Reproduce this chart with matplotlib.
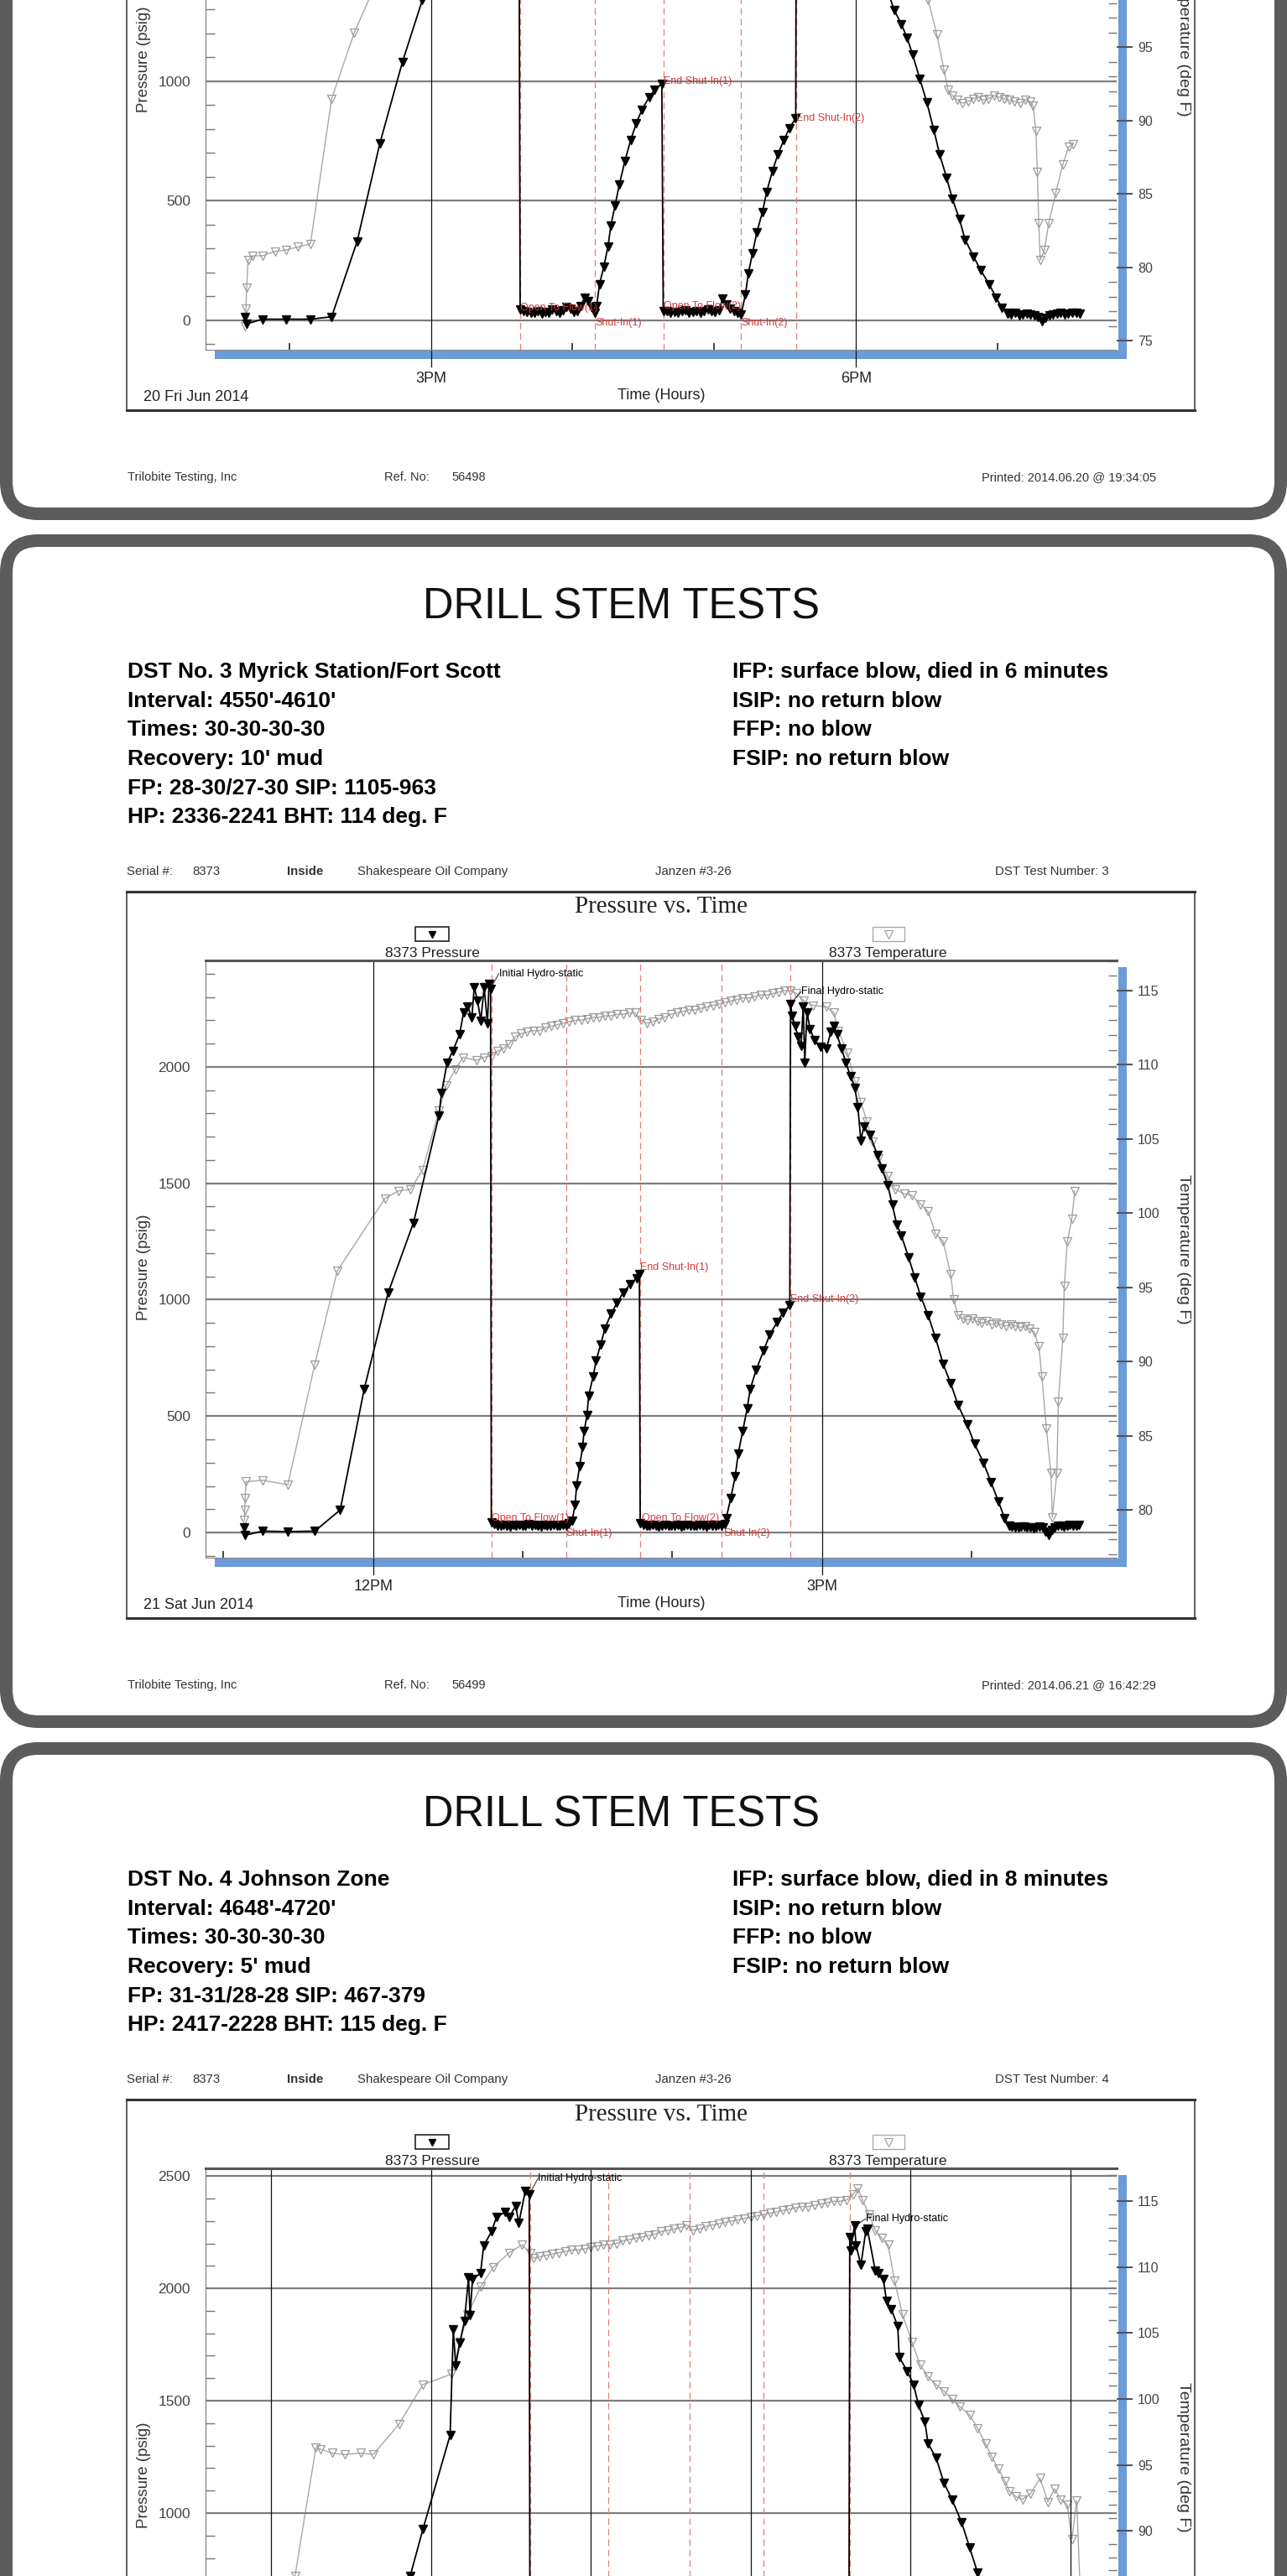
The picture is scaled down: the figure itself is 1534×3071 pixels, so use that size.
import numpy as np
import matplotlib.pyplot as plt
from matplotlib.patches import FancyBboxPatch, Rectangle
from matplotlib.ticker import MultipleLocator

W, H = 1534, 3071
PX = 0.72  # points per pixel at dpi 100

SANS = ['Liberation Sans', 'DejaVu Sans']
SERIF = ['Liberation Serif', 'DejaVu Serif']
RED = '#d43a3a'

# ---------------- DST No. 2 (top panel, only the lower part is on the page) ----------------
dst2_events = [15.63, 16.16, 16.64, 17.19, 17.58]
dst2_run_t = [13.69, 13.70, 13.81, 13.98, 14.15, 14.30, 14.48, 14.64, 14.80, 14.94, 15.20, 15.40, 15.55, 15.62]
dst2_run_p = [15, -15, 5, 5, 5, 15, 331, 740, 1082, 1340, 1800, 2150, 2280, 2300]
dst2_flow1 = [45, 38, 35, 30, 32, 40, 28, 35, 30, 45, 38, 30, 42, 55, 48, 35, 40, 60, 95, 80, 55, 30]
dst2_si1_t = [16.17, 16.19, 16.22, 16.25, 16.27, 16.30, 16.33, 16.37, 16.41, 16.45, 16.49, 16.54, 16.58, 16.63]
dst2_si1_p = [60, 151, 223, 309, 396, 481, 568, 668, 754, 825, 882, 933, 965, 990]
dst2_flow2 = [40, 38, 32, 35, 30, 38, 42, 30, 35, 40, 33, 38, 45, 40, 35, 42, 90, 65, 50, 40, 30, 25]
dst2_si2_t = [17.22, 17.24, 17.27, 17.30, 17.34, 17.37, 17.41, 17.45, 17.49, 17.53, 17.575]
dst2_si2_p = [109, 195, 281, 367, 453, 538, 624, 696, 753, 803, 846]
dst2_out_t = [17.58, 17.62, 17.75, 17.90, 18.05, 18.20, 18.27, 18.32, 18.36, 18.40, 18.45, 18.50,
              18.55, 18.59, 18.64, 18.68, 18.73, 18.77, 18.83, 18.88, 18.94, 18.99, 19.03, 19.07]
dst2_out_p = [2200, 2150, 2050, 1850, 1650, 1420, 1298, 1240, 1183, 1112, 1011, 912,
              796, 695, 596, 509, 424, 338, 267, 210, 151, 95, 52, 30]
dst2_tail = [28, 25, 30, 22, 25, 28, 24, 20, 15, -5, 10, 22, 25, 28, 30, 26, 28, 30, 32, 28]
dst2_temp_t = [13.69, 13.695, 13.70, 13.71, 13.74, 13.81, 13.90, 13.98, 14.06, 14.15, 14.30, 14.46,
               14.62, 14.90, 15.60, 16.60, 17.60, 17.90, 18.20, 18.45, 18.51, 18.57, 18.62, 18.65]
dst2_temp = [76.0, 77.2, 78.6, 80.5, 80.8, 80.8, 81.1, 81.2, 81.4, 81.6, 91.5, 96.0,
             99.5, 104.0, 110.0, 112.5, 114.0, 114.5, 108.0, 100.5, 98.2, 95.9, 93.5, 92.1]
dst2_temp_flat = [91.7, 91.4, 91.2, 91.3, 91.5, 91.6, 91.4, 91.5, 91.7, 91.6, 91.5, 91.4, 91.3, 91.2, 91.4, 91.3]
dst2_temp_end_t = [19.25, 19.27, 19.28, 19.29, 19.30, 19.33, 19.36, 19.41, 19.46, 19.50, 19.53]
dst2_temp_end = [91.0, 89.3, 86.5, 83.0, 80.5, 81.2, 83.0, 85.1, 87.0, 88.2, 88.4]

# ---------------- DST No. 3 (middle panel) ----------------
dst3_info_left = ["DST No. 3 Myrick Station/Fort Scott", "Interval: 4550'-4610'", "Times: 30-30-30-30",
                  "Recovery: 10' mud", "FP: 28-30/27-30 SIP: 1105-963", "HP: 2336-2241 BHT: 114 deg. F"]
dst3_info_right = ["IFP: surface blow, died in 6 minutes", "ISIP: no return blow", "FFP: no blow",
                   "FSIP: no return blow"]
dst3_events = [12.79, 13.29, 13.785, 14.33, 14.79]
dst3_run_t = [11.14, 11.145, 11.26, 11.43, 11.61, 11.78, 11.94, 12.10, 12.27, 12.44, 12.457, 12.495,
              12.533, 12.578, 12.605, 12.632, 12.66, 12.676, 12.698, 12.72, 12.742, 12.764, 12.775, 12.785]
dst3_run_p = [20, -12, 6, 4, 6, 97, 615, 1029, 1331, 1791, 1887, 2019,
              2068, 2140, 2235, 2259, 2212, 2343, 2283, 2199, 2343, 2187, 2356, 2336]
dst3_flow1 = [42, 35, 30, 28, 33, 30, 27, 34, 29, 31, 28, 30, 35, 29, 31, 30, 27, 32, 30, 29, 33, 30, 28, 31, 30]
dst3_si1_t = [13.31, 13.33, 13.35, 13.36, 13.38, 13.40, 13.41, 13.43, 13.44, 13.47, 13.49, 13.52,
              13.55, 13.59, 13.63, 13.67, 13.72, 13.76, 13.78]
dst3_si1_p = [40, 50, 119, 201, 284, 367, 435, 504, 586, 669, 737, 806, 877, 939, 986, 1029, 1068, 1092, 1110]
dst3_flow2 = [40, 33, 30, 28, 31, 29, 27, 30, 32, 28, 30, 29, 31, 27, 30, 33, 29, 30, 28, 31, 30, 27, 32, 29,
              30, 31, 29]
dst3_si2_t = [14.35, 14.36, 14.39, 14.42, 14.44, 14.47, 14.50, 14.52, 14.56, 14.61, 14.65, 14.70, 14.74, 14.785]
dst3_si2_p = [35, 63, 146, 241, 338, 435, 532, 615, 698, 781, 849, 903, 945, 975]
dst3_out_t = [14.79, 14.80, 14.82, 14.84, 14.86, 14.875, 14.885, 14.90, 14.92, 14.95, 14.99, 15.03,
              15.06, 15.08, 15.10, 15.13, 15.16, 15.19, 15.22, 15.24, 15.26, 15.28, 15.32, 15.37,
              15.40, 15.44, 15.47, 15.50, 15.53, 15.58, 15.62, 15.66, 15.71, 15.76, 15.81, 15.86,
              15.91, 15.97, 16.02, 16.08, 16.13, 16.18, 16.22, 16.25]
dst3_out_p = [2271, 2220, 2176, 2130, 2091, 2259, 2019, 2235, 2163, 2115, 2086, 2079,
              2151, 2176, 2140, 2079, 2019, 1960, 1911, 1827, 1683, 1745, 1709, 1622,
              1565, 1493, 1407, 1324, 1277, 1180, 1097, 1014, 932, 835, 723, 642,
              547, 464, 381, 299, 216, 133, 63, 29]
dst3_tail = [29, 25, 22, 20, 24, 26, 22, 20, 18, 22, 25, 20, 5, -10, 10, 22, 28, 30, 26, 30, 32, 28, 30, 33]
dst3_temp_t = [11.14, 11.142, 11.145, 11.15, 11.26, 11.43, 11.61, 11.76, 12.08, 12.17, 12.25, 12.33,
               12.44, 12.49, 12.55, 12.60, 12.69, 12.74]
dst3_temp = [79.3, 80.0, 80.8, 81.9, 82.0, 81.7, 89.8, 96.1, 101.0, 101.5, 101.6, 102.9,
             106.9, 108.6, 109.7, 110.5, 110.3, 110.5]
dst3_temp_plateau = [110.6, 110.9, 111.1, 111.4, 111.9, 112.1, 112.2, 112.3, 112.3, 112.5, 112.6, 112.7,
                     112.8, 112.9, 113.0, 113.0, 113.1, 113.2, 113.2, 113.3, 113.3, 113.4, 113.4, 113.5,
                     113.5, 113.0, 112.8, 112.9, 113.1, 113.2, 113.4, 113.5, 113.6, 113.7, 113.7, 113.8,
                     113.9, 114.0, 114.1, 114.2, 114.3, 114.4, 114.5, 114.5, 114.6, 114.7, 114.7, 114.8,
                     114.9, 115.0, 115.0]
dst3_temp_fall_t = [14.83, 14.88, 14.94, 15.03, 15.08, 15.11, 15.17, 15.22, 15.26, 15.30, 15.34, 15.38,
                    15.44, 15.49, 15.55, 15.60, 15.66, 15.71, 15.76, 15.81, 15.86, 15.88]
dst3_temp_fall = [114.8, 114.3, 114.0, 113.9, 113.5, 112.3, 110.8, 108.9, 107.5, 106.2, 104.8, 103.7,
                  102.5, 101.6, 101.3, 101.2, 100.6, 100.1, 98.6, 98.1, 95.9, 94.2]
dst3_temp_flat = [93.1, 92.9, 92.8, 92.9, 92.7, 92.6, 92.7, 92.5, 92.6, 92.5, 92.4, 92.5, 92.4, 92.3, 92.4,
                  92.2, 92.0]
dst3_temp_end_t = [16.45, 16.47, 16.50, 16.53, 16.54, 16.57, 16.58, 16.61, 16.62, 16.64, 16.67, 16.69]
dst3_temp_end = [91.0, 89.0, 85.5, 82.5, 79.5, 82.5, 87.3, 91.6, 95.1, 98.1, 99.6, 101.5]

# ---------------- DST No. 4 (bottom panel, only the upper part is on the page) ----------------
dst4_info_left = ["DST No. 4 Johnson Zone", "Interval: 4648'-4720'", "Times: 30-30-30-30",
                  "Recovery: 5' mud", "FP: 31-31/28-28 SIP: 467-379", "HP: 2417-2228 BHT: 115 deg. F"]
dst4_info_right = ["IFP: surface blow, died in 8 minutes", "ISIP: no return blow", "FFP: no blow",
                   "FSIP: no return blow"]
dst4_events = [10.62, 11.11, 11.62, 12.08, 12.62]
dst4_run_t = [9.80, 9.87, 9.95, 10.12, 10.14, 10.155, 10.18, 10.21, 10.235, 10.245, 10.26, 10.31,
              10.33, 10.38, 10.41, 10.465, 10.49, 10.53, 10.55, 10.59, 10.615]
dst4_run_p = [520, 720, 929, 1347, 1817, 1657, 1757, 1854, 2049, 1881, 2041, 2067,
              2190, 2254, 2317, 2340, 2317, 2366, 2291, 2433, 2417]
dst4_flow1 = [31, 30, 28, 33, 30, 29, 31, 30, 32, 29, 31, 30, 31]
dst4_si1_t = [11.13, 11.18, 11.25, 11.35, 11.45, 11.55, 11.615]
dst4_si1_p = [60, 200, 320, 400, 440, 460, 467]
dst4_flow2 = [28, 27, 29, 28, 30, 28, 27, 28, 29, 28, 28]
dst4_si2_t = [12.10, 12.15, 12.22, 12.32, 12.42, 12.52, 12.615]
dst4_si2_p = [50, 160, 260, 320, 355, 372, 379]
dst4_out_t = [12.62, 12.625, 12.65, 12.66, 12.69, 12.72, 12.73, 12.78, 12.80, 12.83, 12.85, 12.88,
              12.92, 12.93, 12.98, 13.02, 13.05, 13.09, 13.11, 13.16, 13.21, 13.26, 13.32, 13.37,
              13.42, 13.47]
dst4_out_p = [2228, 2168, 2280, 2190, 2104, 2254, 2265, 2078, 2067, 2041, 1944, 1907,
              1832, 1694, 1631, 1571, 1481, 1407, 1310, 1246, 1134, 1060, 959, 847,
              735, 620]
dst4_temp_t = [9.15, 9.28, 9.31, 9.38, 9.46, 9.56, 9.64, 9.80, 9.95, 10.13, 10.18, 10.23,
               10.31, 10.39, 10.49, 10.57, 10.62]
dst4_temp = [86.6, 96.3, 96.2, 95.9, 95.8, 95.9, 95.8, 98.1, 101.1, 101.9, 104.3, 106.4,
             108.5, 110.0, 111.1, 111.7, 111.1]
dst4_temp_plateau = [110.7, 110.8, 110.9, 111.0, 111.1, 111.2, 111.3, 111.3, 111.4, 111.5, 111.6, 111.7,
                     111.7, 111.8, 112.0, 112.1, 112.2, 112.3, 112.4, 112.5, 112.7, 112.8, 112.9, 113.0,
                     113.2, 112.8, 112.9, 113.1, 113.2, 113.3, 113.4, 113.5, 113.6, 113.7, 113.8, 113.9,
                     114.0, 114.1, 114.2, 114.3, 114.4, 114.5, 114.6, 114.6, 114.7, 114.8, 114.9, 115.0,
                     115.0, 115.1, 115.5]
dst4_temp_fall_t = [12.67, 12.70, 12.74, 12.78, 12.82, 12.86, 12.90, 12.95, 13.01, 13.06, 13.11, 13.16,
                    13.21, 13.26, 13.31, 13.37, 13.42, 13.47, 13.51, 13.55, 13.59, 13.62, 13.66, 13.70,
                    13.75, 13.81, 13.86, 13.90, 13.94, 13.98, 14.01, 14.04, 14.06]
dst4_temp_fall = [116.0, 115.1, 114.0, 112.8, 112.2, 111.7, 109.0, 106.4, 104.3, 102.6, 101.7, 101.1,
                  100.6, 100.0, 99.4, 98.8, 97.8, 96.6, 95.6, 94.7, 93.8, 93.0, 92.6, 92.4,
                  92.8, 94.0, 92.2, 93.2, 92.4, 92.0, 89.4, 92.3, 86.0]


def even(t0, t1, vals):
    # logger samples at a steady rate between two events
    return np.linspace(t0, t1, len(vals)), vals


def join(*parts):
    t = np.concatenate([np.asarray(a, float) for a, b in parts])
    v = np.concatenate([np.asarray(b, float) for a, b in parts])
    return t, v


e2, e3, e4 = dst2_events, dst3_events, dst4_events

# gridlines cover the whole scale, tick labels only the part that lands on the page
charts = [
    dict(top=-803, serial_no='2', info_left=[], info_right=[],
         ref='56498', printed='Printed: 2014.06.20 @ 19:34:05', date='20 Fri Jun 2014',
         xlim=(13.41, 19.84), plim=(-123, 2375), tlim=(74.4, 115.06),
         pgrid=[0, 500, 1000, 1500, 2000], pticks=[0, 500, 1000], tticks=[75, 80, 85, 90, 95],
         hours=[15, 18], hour_labels=['3PM', '6PM'], minor_hours=[14, 16, 17, 19],
         events=e2,
         pressure=join((dst2_run_t, dst2_run_p), even(e2[0], e2[1], dst2_flow1), (dst2_si1_t, dst2_si1_p),
                       even(e2[2], e2[3], dst2_flow2), (dst2_si2_t, dst2_si2_p), (dst2_out_t, dst2_out_p),
                       even(19.07, 19.58, dst2_tail)),
         temp=join((dst2_temp_t, dst2_temp), even(18.68, 19.23, dst2_temp_flat), (dst2_temp_end_t, dst2_temp_end)),
         labels=[(e2[0], 53, 'Open To Flow(1)', RED), (e2[1], -12, 'Shut-In(1)', RED),
                 (e2[2], 1000, 'End Shut-In(1)', RED), (e2[2], 60, 'Open To Flow(2)', RED),
                 (e2[3], -12, 'Shut-In(2)', RED), (e2[4], 846, 'End Shut-In(2)', RED)],
         leaders=[]),
    dict(top=637, serial_no='3', info_left=dst3_info_left, info_right=dst3_info_right,
         ref='56499', printed='Printed: 2014.06.21 @ 16:42:29', date='21 Sat Jun 2014',
         xlim=(10.88, 16.97), plim=(-108, 2457), tlim=(76.78, 117.03),
         pgrid=[0, 500, 1000, 1500, 2000], pticks=[0, 500, 1000, 1500, 2000],
         tticks=[80, 85, 90, 95, 100, 105, 110, 115],
         hours=[12, 15], hour_labels=['12PM', '3PM'], minor_hours=[11, 13, 14, 16],
         events=e3,
         pressure=join((dst3_run_t, dst3_run_p), even(e3[0], e3[1], dst3_flow1), (dst3_si1_t, dst3_si1_p),
                       even(e3[2], e3[3], dst3_flow2), (dst3_si2_t, dst3_si2_p), (dst3_out_t, dst3_out_p),
                       even(16.25, 16.72, dst3_tail)),
         temp=join((dst3_temp_t, dst3_temp), even(12.79, 14.79, dst3_temp_plateau),
                   (dst3_temp_fall_t, dst3_temp_fall), even(15.91, 16.42, dst3_temp_flat),
                   (dst3_temp_end_t, dst3_temp_end)),
         labels=[(12.84, 2400, 'Initial Hydro-static', 'k'), (14.86, 2322, 'Final Hydro-static', 'k'),
                 (e3[0], 63, 'Open To Flow(1)', RED), (e3[1], -5, 'Shut-In(1)', RED),
                 (e3[2], 1137, 'End Shut-In(1)', RED), (e3[2] + 0.01, 63, 'Open To Flow(2)', RED),
                 (e3[3] + 0.01, -5, 'Shut-In(2)', RED), (e3[4], 1000, 'End Shut-In(2)', RED)],
         leaders=[(12.785, 2336, 12.84, 2400), (14.79, 2271, 14.86, 2322)]),
    dict(top=2077, serial_no='4', info_left=dst4_info_left, info_right=dst4_info_right,
         ref=None, printed=None, date=None,
         xlim=(8.59, 14.29), plim=(-123, 2534), tlim=(72.2, 117.5),
         pgrid=[0, 500, 1000, 1500, 2000, 2500], pticks=[1000, 1500, 2000, 2500],
         tticks=[90, 95, 100, 105, 110, 115],
         hours=[9, 10, 11, 12, 13, 14], hour_labels=['', '', '', '', '', ''], minor_hours=[],
         events=e4,
         pressure=join((dst4_run_t, dst4_run_p), even(e4[0], e4[1], dst4_flow1), (dst4_si1_t, dst4_si1_p),
                       even(e4[2], e4[3], dst4_flow2), (dst4_si2_t, dst4_si2_p), (dst4_out_t, dst4_out_p)),
         temp=join((dst4_temp_t, dst4_temp), even(10.64, 12.64, dst4_temp_plateau),
                   (dst4_temp_fall_t, dst4_temp_fall)),
         labels=[(10.67, 2490, 'Initial Hydro-static', 'k'), (12.72, 2310, 'Final Hydro-static', 'k')],
         leaders=[(10.615, 2417, 10.67, 2490), (12.66, 2280, 12.72, 2310)]),
]

fig = plt.figure(figsize=(W / 100, H / 100), dpi=100)
bg = fig.add_axes([0, 0, 1, 1])
bg.set_xlim(0, W)
bg.set_ylim(H, 0)
bg.axis('off')


def put(x, y, s, **kw):
    # page text; skip anything that would sit wholly off the page
    if -30 < y < H + 30:
        kw.setdefault('family', SANS)
        bg.text(x, y, s, **kw)


def draw_panel(c):
    top = c['top']

    # rounded page frame
    bg.add_patch(FancyBboxPatch((7.5, top + 7.5), W - 15, 1408, boxstyle='round,pad=0,rounding_size=38',
                                fc='white', ec='#5c5c5c', lw=15 * PX, zorder=0))
    put(740, top + 100, 'DRILL STEM TESTS', ha='center', va='baseline', fontsize=36.5, color='#111')
    for i, s in enumerate(c['info_left']):
        put(152, top + 171 + 34.6 * i, s, va='baseline', fontsize=19, fontweight='bold')
    for i, s in enumerate(c['info_right']):
        put(873, top + 171 + 34.6 * i, s, va='baseline', fontsize=19, fontweight='bold')

    # header row above the chart
    for x, s, w in [(151, 'Serial #:', 'normal'), (229, '8373', 'normal'), (342, 'Inside', 'bold'),
                    (426, 'Shakespeare Oil Company', 'normal'), (781, 'Janzen #3-26', 'normal'),
                    (1186, 'DST Test Number: ' + c['serial_no'], 'normal')]:
        put(x, top + 406, s, va='baseline', fontsize=10.8, fontweight=w, color='#333')

    # chart frame, title and legend
    bg.add_patch(Rectangle((151, top + 426), 1273, 866, fill=False, ec='#333', lw=1.1))
    bg.plot([151, 1424], [top + 426, top + 426], color='#333', lw=2.2)
    bg.plot([151, 1424], [top + 1292, top + 1292], color='#333', lw=2.2)
    put(788, top + 451, 'Pressure vs. Time', ha='center', va='baseline', fontsize=21,
        family=SERIF, color='#222')
    bg.add_patch(Rectangle((495, top + 468), 40, 17, fill=False, ec='#222', lw=1.2))
    bg.plot(515, top + 477, 'v', color='k', ms=6)
    put(515, top + 504, '8373 Pressure', ha='center', va='baseline', fontsize=12.5, color='#222')
    bg.add_patch(Rectangle((1040, top + 468), 38, 17, fill=False, ec='#aaaaaa', lw=1.0))
    bg.plot(1059, top + 477, 'v', mfc='none', mec='#999999', ms=7, mew=0.8)
    put(1058, top + 504, '8373 Temperature', ha='center', va='baseline', fontsize=12.5, color='#222')

    # blue offset bars along the right and bottom edges of the plot
    bg.add_patch(Rectangle((1333, top + 516), 10, 715, color='#6b9bd9', lw=0))
    bg.add_patch(Rectangle((256, top + 1221), 1087, 10, color='#6b9bd9', lw=0))

    put(172, top + 874, 'Pressure (psig)', rotation=90, ha='center', va='center', fontsize=13.5, color='#333')
    put(1410, top + 852, 'Temperature (deg F)', rotation=270, ha='center', va='center', fontsize=14,
        color='#333')
    put(788, top + 1274, 'Time (Hours)', ha='center', va='center', fontsize=13, color='#222')
    if c['date']:
        put(171, top + 1277, c['date'], va='center', fontsize=13, color='#222')
    if c['ref']:
        fy = top + 1376
        put(152, fy, 'Trilobite Testing, Inc', va='baseline', fontsize=10.5, color='#333')
        put(458, fy, 'Ref. No:', va='baseline', fontsize=10.5, color='#333')
        put(538, fy, c['ref'], va='baseline', fontsize=10.5, color='#333')
        put(1378, fy, c['printed'], ha='right', va='baseline', fontsize=10.5, color='#333')

    # the plot itself
    ax = fig.add_axes([245 / W, 1 - (top + 1220) / H, 1086 / W, 712 / H])
    ax.set_facecolor('none')
    axt = ax.twinx()
    ax.set_zorder(3)
    axt.set_zorder(2)
    ax.set_xlim(*c['xlim'])
    ax.set_ylim(*c['plim'])
    axt.set_ylim(*c['tlim'])

    for v in c['pgrid']:
        ax.axhline(v, color='#7d7d7d', lw=1.6, zorder=0.5)
    for h in c['hours']:
        ax.axvline(h, ymin=-0.028, color='#111', lw=0.9, clip_on=False, zorder=0.6)
    for e in c['events']:
        ax.axvline(e, color='#e27b7b', lw=0.9, ls=(0, (6, 4)), zorder=0.7)

    ax.set_yticks(c['pticks'])
    ax.set_yticklabels([str(v) for v in c['pticks']])
    ax.yaxis.set_minor_locator(MultipleLocator(100))
    ax.tick_params(axis='y', which='major', length=0, pad=13, labelsize=12.5, labelcolor='#444')
    ax.tick_params(axis='y', which='minor', direction='in', length=8, color='#777', width=1)
    ax.set_xticks(c['hours'], c['hour_labels'])
    ax.set_xticks(c['minor_hours'], minor=True)
    ax.tick_params(axis='x', which='major', length=0, pad=19, labelsize=13, labelcolor='#222')
    ax.tick_params(axis='x', which='minor', direction='in', length=6, color='#222', width=1.2)
    for lab in ax.get_xticklabels() + ax.get_yticklabels():
        lab.set_family(SANS)

    axt.set_yticks(c['tticks'])
    axt.yaxis.set_minor_locator(MultipleLocator(1))
    axt.tick_params(axis='y', which='major', direction='out', length=14, width=1.5, color='#555',
                    pad=4, labelsize=11.5, labelcolor='#444')
    axt.tick_params(axis='y', which='minor', direction='in', length=7, color='#777', width=1)
    for lab in axt.get_yticklabels():
        lab.set_family(SANS)

    for sp in axt.spines.values():
        sp.set_visible(False)
    ax.spines['right'].set_visible(False)
    ax.spines['top'].set_linewidth(2.2)
    ax.spines['top'].set_color('#555')
    ax.spines['left'].set_linewidth(0.8)
    ax.spines['left'].set_color('#777')
    ax.spines['bottom'].set_linewidth(0.8)
    ax.spines['bottom'].set_color('#888')

    tt, tv = c['temp']
    axt.plot(tt, tv, color='#a8a8a8', lw=1.0, marker='v', ms=6.5, mfc='none', mec='#9a9a9a', mew=0.9)
    pt, pv = c['pressure']
    ax.plot(pt, pv, color='k', lw=1.3, marker='v', ms=7.5, mfc='k', mec='k', zorder=3)

    for x0, y0, x1, y1 in c['leaders']:
        ax.plot([x0, x1], [y0, y1], color='k', lw=0.6, zorder=3)
    for t, p, s, col in c['labels']:
        ax.text(t, p, s, color=col, fontsize=9, family=SANS, ha='left', va='center', zorder=5)


for c in charts:
    draw_panel(c)

plt.savefig('out.png', dpi=100)
